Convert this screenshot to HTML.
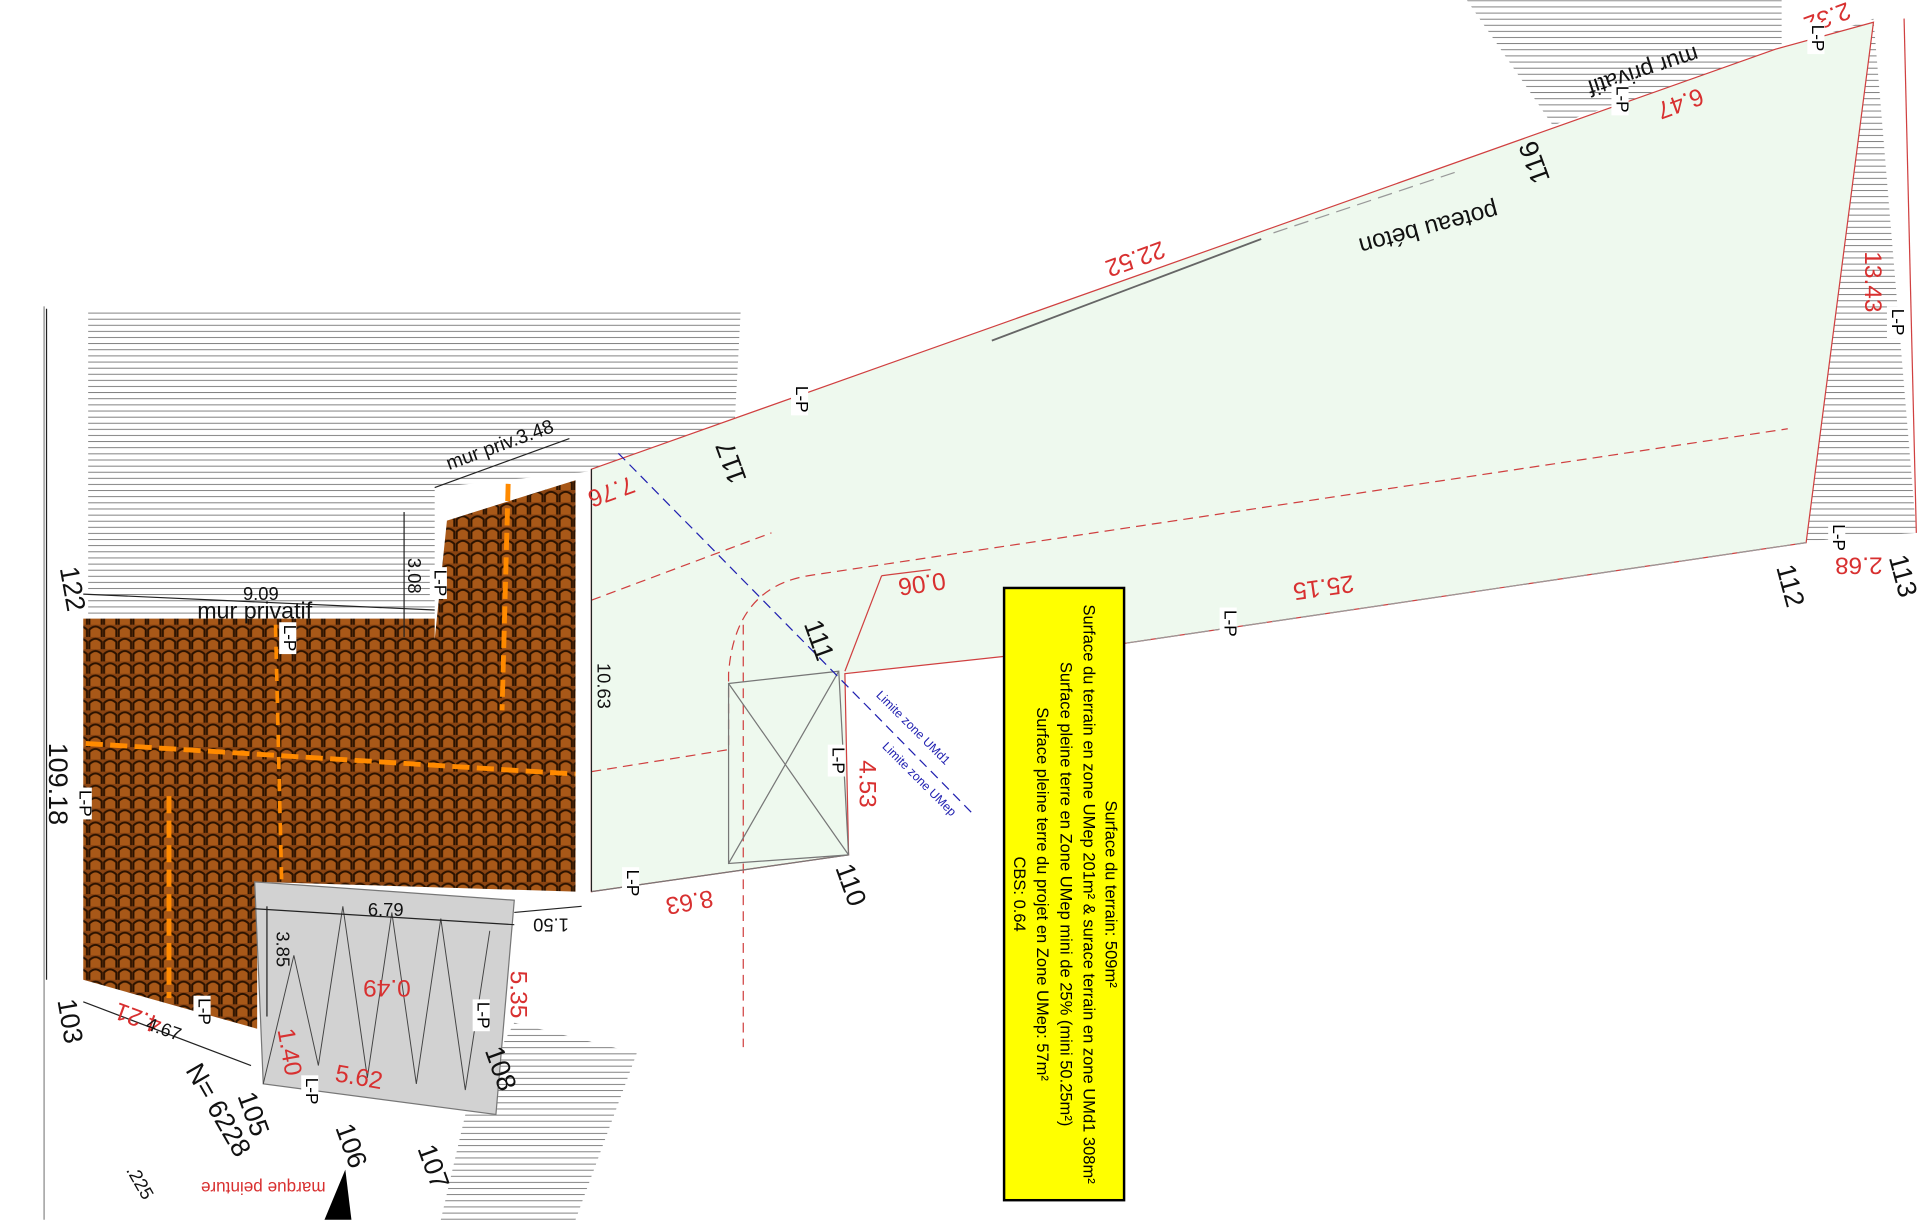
<!DOCTYPE html>
<html><head><meta charset="utf-8"><style>
html,body{margin:0;padding:0;background:#fff;}
svg{display:block;}
text{font-family:"Liberation Sans",sans-serif;}
</style></head><body>
<svg width="1920" height="1220" viewBox="0 0 1568 996" xmlns="http://www.w3.org/2000/svg">
<defs>
<pattern id="hatch" width="10" height="5" patternUnits="userSpaceOnUse"><line x1="0" y1="0.5" x2="10" y2="0.5" stroke="#555" stroke-width="0.6"/></pattern>
<pattern id="tile" width="12" height="10" patternUnits="userSpaceOnUse">
<rect width="12" height="10" fill="#8a4412"/>
<path d="M1 10 V4 Q6 -1 11 4 V10" fill="#a85818" stroke="#2a1200" stroke-width="1.6"/>
</pattern>
</defs>
<rect width="1568" height="996" fill="#fff"/>
<polygon points="72,252 605,252 600,345 480,385 355,398 355,505 72,505" fill="url(#hatch)"/>
<polygon points="1198,0 1455,0 1455,42 1268,102" fill="url(#hatch)"/>
<polygon points="1448,42 1530,15 1565,435 1475,442" fill="url(#hatch)"/>
<polygon points="380,910 420,835 520,860 470,996 360,996" fill="url(#hatch)"/>
<line x1="36" y1="250" x2="36" y2="996" stroke="#888" stroke-width="1"/>
<polygon points="483,383 1450,40 1530,18 1475,443 920,525 690,550 693,698 483,728" fill="#eef9ee" stroke="#d04040" stroke-width="1"/>
<polygon points="68,505 355,505 355,522 365,425 470,392 470,728 210,720 210,840 68,800" fill="url(#tile)"/>
<line x1="70" y1="607" x2="470" y2="632" stroke="#ff8a00" stroke-width="4" stroke-dasharray="14,6"/>
<line x1="415" y1="395" x2="410" y2="580" stroke="#ff8a00" stroke-width="4" stroke-dasharray="14,6"/>
<line x1="138" y1="650" x2="138" y2="815" stroke="#ff8a00" stroke-width="4" stroke-dasharray="14,6"/>
<line x1="225" y1="510" x2="230" y2="720" stroke="#ff8a00" stroke-width="3" stroke-dasharray="10,8"/>
<polygon points="208,720 420,735 405,910 215,885" fill="#d2d2d2" stroke="#777"/>
<polyline points="215,885 240,780 260,870 280,740 300,880 320,745 340,885 360,750 380,890 400,760" fill="none" stroke="#444" stroke-width="0.8"/>
<path d="M483,490 L630,435" stroke="#d04040" stroke-dasharray="8,5" fill="none"/>
<path d="M483,630 L595,612 L595,550 Q600,480 660,470 L1460,350" stroke="#d04040" stroke-dasharray="8,5" fill="none"/>
<line x1="607" y1="510" x2="607" y2="855" stroke="#d04040" stroke-dasharray="8,5"/>
<line x1="690" y1="548" x2="720" y2="470" stroke="#d04040"/><line x1="720" y1="470" x2="760" y2="465" stroke="#d04040"/>
<polygon points="595,558 685,548 693,698 595,705" fill="none" stroke="#777"/>
<line x1="595" y1="558" x2="693" y2="698" stroke="#777"/><line x1="685" y1="548" x2="595" y2="705" stroke="#777"/>
<line x1="483" y1="728" x2="693" y2="698" stroke="#777"/>
<line x1="920" y1="525" x2="1475" y2="443" stroke="#999" stroke-dasharray="20,4"/>
<line x1="810" y1="278" x2="1030" y2="195" stroke="#666" stroke-width="1.5"/>
<line x1="1040" y1="190" x2="1190" y2="140" stroke="#999" stroke-dasharray="12,6"/>
<line x1="1555" y1="15" x2="1565" y2="435" stroke="#d04040"/>
<line x1="505" y1="370" x2="795" y2="665" stroke="#2020b0" stroke-dasharray="8,5"/>
<g stroke="#222" stroke-width="1">
<line x1="68" y1="485" x2="355" y2="498"/>
<line x1="330" y1="418" x2="330" y2="520"/>
<line x1="483" y1="383" x2="483" y2="728"/>
<line x1="208" y1="742" x2="420" y2="755"/>
<line x1="218" y1="740" x2="218" y2="830"/>
<line x1="420" y1="745" x2="475" y2="740"/>
<line x1="68" y1="818" x2="205" y2="870"/>
<line x1="355" y1="398" x2="465" y2="358"/>
<line x1="38" y1="252" x2="38" y2="800"/>
</g>
<rect x="820" y="480" width="98" height="500" fill="#ffff00" stroke="#000" stroke-width="2"/>
<g font-size="13.5" fill="#000" text-anchor="middle">
<text transform="translate(903,730) rotate(90)">Surface du terrain: 509m²</text>
<text transform="translate(885,730) rotate(90)">Surface du terrain en zone UMep 201m² &amp; surace terrain en zone UMd1 308m²</text>
<text transform="translate(866,730) rotate(90)">Surface pleine terre en Zone UMep mini de 25% (mini 50.25m²)</text>
<text transform="translate(847,730) rotate(90)">Surface pleine terre du projet en Zone UMep: 57m²</text>
<text transform="translate(828,730) rotate(90)">CBS: 0.64</text>
</g>
<g fill="#d83030" font-size="20" text-anchor="middle">
<text transform="translate(925,205) rotate(160)">22.52</text>
<text transform="translate(1370,78) rotate(160)">6.47</text>
<text transform="translate(1080,473) rotate(172)">25.15</text>
<text transform="translate(752,470) rotate(172)">0.06</text>
<text transform="translate(497,395) rotate(160)">7.76</text>
<text transform="translate(562,730) rotate(170)">8.63</text>
<text transform="translate(702,640) rotate(90)">4.53</text>
<text transform="translate(1523,230) rotate(90)">13.43</text>
<text transform="translate(1518,455) rotate(180)">2.68</text>
<text transform="translate(1490,8) rotate(160)">2.32</text>
<text transform="translate(417,812) rotate(90)">5.35</text>
<text transform="translate(292,886) rotate(10)">5.62</text>
<text transform="translate(230,860) rotate(80)">1.40</text>
<text transform="translate(316,800) rotate(180)">0.49</text>
<text transform="translate(115,825) rotate(200)">4.21</text>
<text font-size="14" transform="translate(215,965) rotate(180)">marque peinture</text>
</g>
<g fill="#111" font-size="17" text-anchor="middle">
<text transform="translate(1165,180) rotate(165)" font-size="20">poteau béton</text>
<text transform="translate(1340,52) rotate(162)" font-size="19">mur privatif</text>
<text transform="translate(410,368) rotate(-20)" font-size="16">mur priv.3.48</text>
<text x="213" y="490" font-size="15">9.09</text>
<text x="208" y="505" font-size="19">mur privatif</text>
<text transform="translate(333,470) rotate(90)" font-size="15">3.08</text>
<text transform="translate(488,560) rotate(90)" font-size="15">10.63</text>
<text x="315" y="748" font-size="15">6.79</text>
<text transform="translate(226,775) rotate(90)" font-size="15">3.85</text>
<text transform="translate(450,750) rotate(180)" font-size="15">1.50</text>
<text transform="translate(132,845) rotate(20)" font-size="15">4.67</text>
<text transform="translate(1260,130) rotate(250)" font-size="22">116</text>
<text transform="translate(604,375) rotate(250)" font-size="22">117</text>
<text transform="translate(662,525) rotate(70)" font-size="22">111</text>
<text transform="translate(688,725) rotate(70)" font-size="22">110</text>
<text transform="translate(1455,480) rotate(75)" font-size="22">112</text>
<text transform="translate(1547,472) rotate(75)" font-size="22">113</text>
<text transform="translate(52,482) rotate(80)" font-size="22">122</text>
<text transform="translate(40,640) rotate(90)" font-size="22">109.18</text>
<text transform="translate(50,835) rotate(80)" font-size="22">103</text>
<text transform="translate(200,912) rotate(70)" font-size="22">105</text>
<text transform="translate(280,938) rotate(70)" font-size="22">106</text>
<text transform="translate(347,955) rotate(70)" font-size="22">107</text>
<text transform="translate(402,875) rotate(70)" font-size="22">108</text>
<text transform="translate(172,910) rotate(60)" font-size="22">N= 6228</text>
<text transform="translate(110,968) rotate(60)" font-size="15">.225</text>
</g>
<polygon points="265,996 282,955 287,996" fill="#000"/>
<g fill="#2020b0" font-size="10">
<text transform="translate(715,568) rotate(45)">Limite zone UMd1</text>
<text transform="translate(720,610) rotate(45)">Limite zone UMep</text>
</g>
<g font-size="14" fill="#000">
<g transform="translate(650,325) rotate(90)"><rect x="-12" y="-10" width="26" height="14" fill="#fff"/><text x="-10">L-P</text></g>
<g transform="translate(355,475) rotate(90)"><rect x="-12" y="-10" width="26" height="14" fill="#fff"/><text x="-10">L-P</text></g>
<g transform="translate(232,520) rotate(90)"><rect x="-12" y="-10" width="26" height="14" fill="#fff"/><text x="-10">L-P</text></g>
<g transform="translate(65,655) rotate(90)"><rect x="-12" y="-10" width="26" height="14" fill="#fff"/><text x="-10">L-P</text></g>
<g transform="translate(512,720) rotate(90)"><rect x="-12" y="-10" width="26" height="14" fill="#fff"/><text x="-10">L-P</text></g>
<g transform="translate(680,620) rotate(90)"><rect x="-12" y="-10" width="26" height="14" fill="#fff"/><text x="-10">L-P</text></g>
<g transform="translate(1000,508) rotate(90)"><rect x="-12" y="-10" width="26" height="14" fill="#fff"/><text x="-10">L-P</text></g>
<g transform="translate(1320,80) rotate(90)"><rect x="-12" y="-10" width="26" height="14" fill="#fff"/><text x="-10">L-P</text></g>
<g transform="translate(1480,30) rotate(90)"><rect x="-12" y="-10" width="26" height="14" fill="#fff"/><text x="-10">L-P</text></g>
<g transform="translate(1545,262) rotate(90)"><rect x="-12" y="-10" width="26" height="14" fill="#fff"/><text x="-10">L-P</text></g>
<g transform="translate(1497,438) rotate(90)"><rect x="-12" y="-10" width="26" height="14" fill="#fff"/><text x="-10">L-P</text></g>
<g transform="translate(162,825) rotate(90)"><rect x="-12" y="-10" width="26" height="14" fill="#fff"/><text x="-10">L-P</text></g>
<g transform="translate(390,828) rotate(90)"><rect x="-12" y="-10" width="26" height="14" fill="#fff"/><text x="-10">L-P</text></g>
<g transform="translate(250,890) rotate(90)"><rect x="-12" y="-10" width="26" height="14" fill="#fff"/><text x="-10">L-P</text></g>
</g>
</svg>
</body></html>
